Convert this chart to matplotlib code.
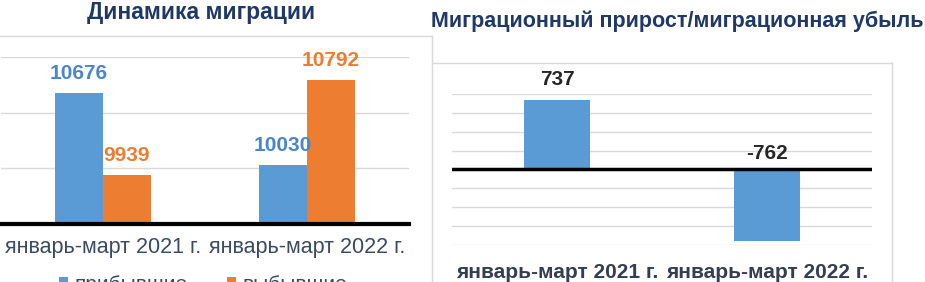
import numpy as np
import matplotlib
matplotlib.use("Agg")
import matplotlib.pyplot as plt
from matplotlib.lines import Line2D

plt.rcParams['font.family'] = ['Liberation Sans', 'DejaVu Sans']

# data
periods = ['январь-март 2021 г.', 'январь-март 2022 г.']
arrived = [10676, 10030]
departed = [9939, 10792]
net = [737, -762]
series_names = ['прибывшие', 'выбывшие']

BLUE = '#5B9BD5'
ORANGE = '#ED7D31'
NAVY = '#1F3864'
GRID = '#D9D9D9'

W, H = 925, 282
fig = plt.figure(figsize=(W / 100, H / 100), dpi=100)


def px_axes(x0, y0, x1, y1):
    # pixel box (top-left origin) -> figure axes
    return fig.add_axes([x0 / W, 1 - y1 / H, (x1 - x0) / W, (y1 - y0) / H])


# ---- left chart: migration dynamics
ax1 = px_axes(1, 57, 409, 224)
x = np.arange(len(periods))
bw = 0.235
b1 = ax1.bar(x - bw / 2, arrived, bw, color=BLUE, label=series_names[0])
b2 = ax1.bar(x + bw / 2, departed, bw, color=ORANGE, label=series_names[1])
ax1.set_xlim(-0.5, 1.5)
ax1.set_ylim(9500, 11000)
ax1.set_yticks([10000, 10500, 11000])
ax1.yaxis.grid(True, color=GRID, lw=1)
ax1.set_axisbelow(True)
ax1.tick_params(axis='y', length=0, labelleft=False)
for s in ['top', 'left', 'right']:
    ax1.spines[s].set_visible(False)
ax1.spines['bottom'].set_linewidth(3)
ax1.spines['bottom'].set_color('black')
ax1.set_xticks(x)
ax1.set_xticklabels(periods, fontsize=15.5, color='#3B4A63')
ax1.tick_params(axis='x', length=0, pad=9)
ax1.bar_label(b1, fontsize=15, fontweight='bold', color='#4A86C8', padding=7)
ax1.bar_label(b2, fontsize=15, fontweight='bold', color=ORANGE, padding=7)

fig.text(201 / W, 1 - 19 / H, 'Динамика миграции', ha='center', va='baseline',
         fontsize=16.5, fontweight='bold', color=NAVY)

# legend sits mostly below the image edge, as in the source screenshot
leg = fig.legend(handles=[b1, b2], loc='upper center', ncol=2,
                 bbox_to_anchor=(203 / W, 1 - 275 / H), frameon=False,
                 fontsize=15, handlelength=0.45, handleheight=0.45,
                 columnspacing=1.9, handletextpad=0.3, borderpad=0,
                 borderaxespad=0)
for t in leg.get_texts():
    t.set_color('#3B4A63')

# ---- right chart: net migration
ax2 = px_axes(452, 94, 872, 245)
ax2.bar(x, net, 0.31, color=BLUE)
ax2.set_xlim(-0.5, 1.5)
ax2.set_ylim(-800, 800)
ax2.set_yticks(np.arange(-800, 801, 200))
ax2.yaxis.grid(True, color=GRID, lw=1)
ax2.set_axisbelow(True)
ax2.axhline(0, color='black', lw=2.5)
ax2.tick_params(axis='y', length=0, labelleft=False)
for s in ax2.spines.values():
    s.set_visible(False)
ax2.set_xticks(x)
ax2.set_xticklabels(periods, fontsize=15, fontweight='bold', color='#333F50')
ax2.tick_params(axis='x', length=0, pad=13)
for xi, v in zip(x, net):
    if v >= 0:
        ax2.annotate(str(v), (xi, v), xytext=(0, 8), textcoords='offset points',
                     ha='center', va='bottom', fontsize=15, fontweight='bold',
                     color='#262626', annotation_clip=False)
    else:
        ax2.annotate(str(v), (xi, 0), xytext=(0, 5), textcoords='offset points',
                     ha='center', va='bottom', fontsize=15, fontweight='bold',
                     color='#262626', annotation_clip=False)

fig.text(677 / W, 1 - 27 / H, 'Миграционный прирост/миграционная убыль',
         ha='center', va='baseline', fontsize=15.5, fontweight='bold', color=NAVY)

# chart area borders
def px_line(xs, ys):
    fig.add_artist(Line2D([v / W for v in xs], [1 - v / H for v in ys],
                          color=GRID, lw=1))

px_line([0, 432], [36, 36])
px_line([432, 432], [36, 282])
px_line([432, 892], [63, 63])
px_line([892, 892], [63, 282])

fig.savefig('out.png', dpi=100)
